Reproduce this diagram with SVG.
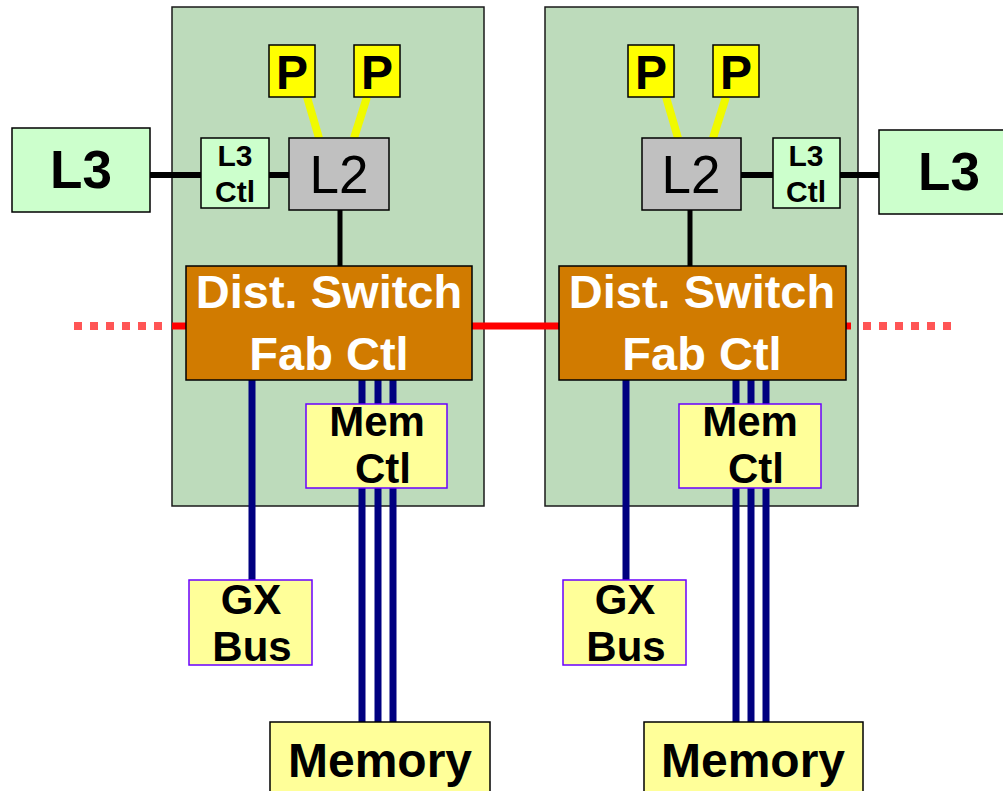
<svg xmlns="http://www.w3.org/2000/svg" width="1003" height="791" viewBox="0 0 1003 791">
<style>
text{font-family:"Liberation Sans",Arial,sans-serif;text-anchor:middle;font-weight:bold;fill:#000}
.chip{fill:#BDDBBB;stroke:#1a1a1a;stroke-width:1.5}
.l3{fill:#CCFFCC;stroke:#000;stroke-width:1.5}
.l2{fill:#C0C0C0;stroke:#000;stroke-width:1.5}
.p{fill:#FFFF00;stroke:#000;stroke-width:1.5}
.sw{fill:#D17B00;stroke:#000;stroke-width:1.5}
.ctl{fill:#FFFF99;stroke:#6A00FF;stroke-width:1.5}
.mem{fill:#FFFF99;stroke:#000;stroke-width:1.5}
.blk{stroke:#000;stroke-width:6;fill:none}
.ylw{stroke:#F0FA00;stroke-width:8;fill:none}
.red{stroke:#FF0000;stroke-width:7;fill:none}
.dot{stroke:#FF5555;stroke-width:8;fill:none;stroke-dasharray:8 8}
.blu{stroke:#000080;stroke-width:7;fill:none}
.wt{fill:#FFFFFF;font-size:47px}
</style>
<g id="chip-left"><rect class="chip" x="172" y="7" width="312" height="499"/></g>
<g id="chip-right"><rect class="chip" x="545" y="7" width="313" height="499"/></g>
<g id="connectors">
<line class="blk" x1="150" y1="175" x2="201" y2="175"/>
<line class="blk" x1="269" y1="175" x2="289" y2="175"/>
<line class="blk" x1="340" y1="210" x2="340" y2="266" style="stroke-width:5"/>
<line class="blk" x1="741" y1="175" x2="773" y2="175"/>
<line class="blk" x1="840" y1="175" x2="879" y2="175"/>
<line class="blk" x1="690" y1="210" x2="690" y2="266" style="stroke-width:5"/>
<line class="ylw" x1="307" y1="97" x2="319" y2="138"/>
<line class="ylw" x1="367" y1="97" x2="354" y2="138"/>
<line class="ylw" x1="666" y1="97" x2="678" y2="138"/>
<line class="ylw" x1="726" y1="97" x2="713" y2="138"/>
<line class="dot" x1="74" y1="326" x2="162" y2="326"/>
<line class="red" x1="172" y1="326" x2="186" y2="326"/>
<line class="red" x1="472" y1="326" x2="559" y2="326"/>
<line class="red" x1="846" y1="326" x2="851" y2="326"/>
<line class="dot" x1="863" y1="326" x2="951" y2="326"/>
<line class="blu" x1="252" y1="380" x2="252" y2="580"/>
<line class="blu" x1="362" y1="380" x2="362" y2="722"/>
<line class="blu" x1="378" y1="380" x2="378" y2="722"/>
<line class="blu" x1="393" y1="380" x2="393" y2="722"/>
<line class="blu" x1="626" y1="380" x2="626" y2="580"/>
<line class="blu" x1="736" y1="380" x2="736" y2="722"/>
<line class="blu" x1="751" y1="380" x2="751" y2="722"/>
<line class="blu" x1="766" y1="380" x2="766" y2="722"/>
</g>
<g id="l3-left"><rect class="l3" x="12" y="128" width="138" height="84"/><text x="81" y="188" font-size="53">L3</text></g>
<g id="l3ctl-left"><rect class="l3" x="201" y="138" width="68" height="70"/><text x="235" y="166" font-size="30">L3</text><text x="235" y="202" font-size="30">Ctl</text></g>
<g id="l2-left"><rect class="l2" x="289" y="138" width="100" height="72"/><text x="339" y="193" font-size="53" style="font-weight:normal">L2</text></g>
<g id="p1-left"><rect class="p" x="269" y="45" width="46" height="52"/><text x="292" y="89" font-size="48">P</text></g>
<g id="p2-left"><rect class="p" x="354" y="45" width="46" height="52"/><text x="377" y="89" font-size="48">P</text></g>
<g id="switch-left"><rect class="sw" x="186" y="266" width="286" height="114"/><text class="wt" x="329" y="308">Dist. Switch</text><text class="wt" x="329" y="370">Fab Ctl</text></g>
<g id="memctl-left"><rect class="ctl" x="306" y="404" width="141" height="84"/><text x="377" y="436" font-size="42">Mem</text><text x="383" y="483" font-size="42">Ctl</text></g>
<g id="gx-left"><rect class="ctl" x="189" y="580" width="123" height="85"/><text x="251" y="614" font-size="42">GX</text><text x="252" y="661" font-size="42">Bus</text></g>
<g id="memory-left"><rect class="mem" x="270" y="722" width="220" height="80"/><text x="380" y="777" font-size="48">Memory</text></g>
<g id="l3-right"><rect class="l3" x="879" y="130" width="140" height="84"/><text x="949" y="190" font-size="53">L3</text></g>
<g id="l3ctl-right"><rect class="l3" x="773" y="138" width="67" height="70"/><text x="806" y="166" font-size="30">L3</text><text x="806" y="202" font-size="30">Ctl</text></g>
<g id="l2-right"><rect class="l2" x="642" y="138" width="99" height="72"/><text x="691" y="193" font-size="53" style="font-weight:normal">L2</text></g>
<g id="p1-right"><rect class="p" x="628" y="45" width="46" height="52"/><text x="651" y="89" font-size="48">P</text></g>
<g id="p2-right"><rect class="p" x="713" y="45" width="46" height="52"/><text x="736" y="89" font-size="48">P</text></g>
<g id="switch-right"><rect class="sw" x="559" y="266" width="287" height="114"/><text class="wt" x="702" y="308">Dist. Switch</text><text class="wt" x="702" y="370">Fab Ctl</text></g>
<g id="memctl-right"><rect class="ctl" x="679" y="404" width="142" height="84"/><text x="750" y="436" font-size="42">Mem</text><text x="756" y="483" font-size="42">Ctl</text></g>
<g id="gx-right"><rect class="ctl" x="563" y="580" width="123" height="85"/><text x="625" y="614" font-size="42">GX</text><text x="626" y="661" font-size="42">Bus</text></g>
<g id="memory-right"><rect class="mem" x="644" y="722" width="219" height="80"/><text x="753" y="777" font-size="48">Memory</text></g>
</svg>
